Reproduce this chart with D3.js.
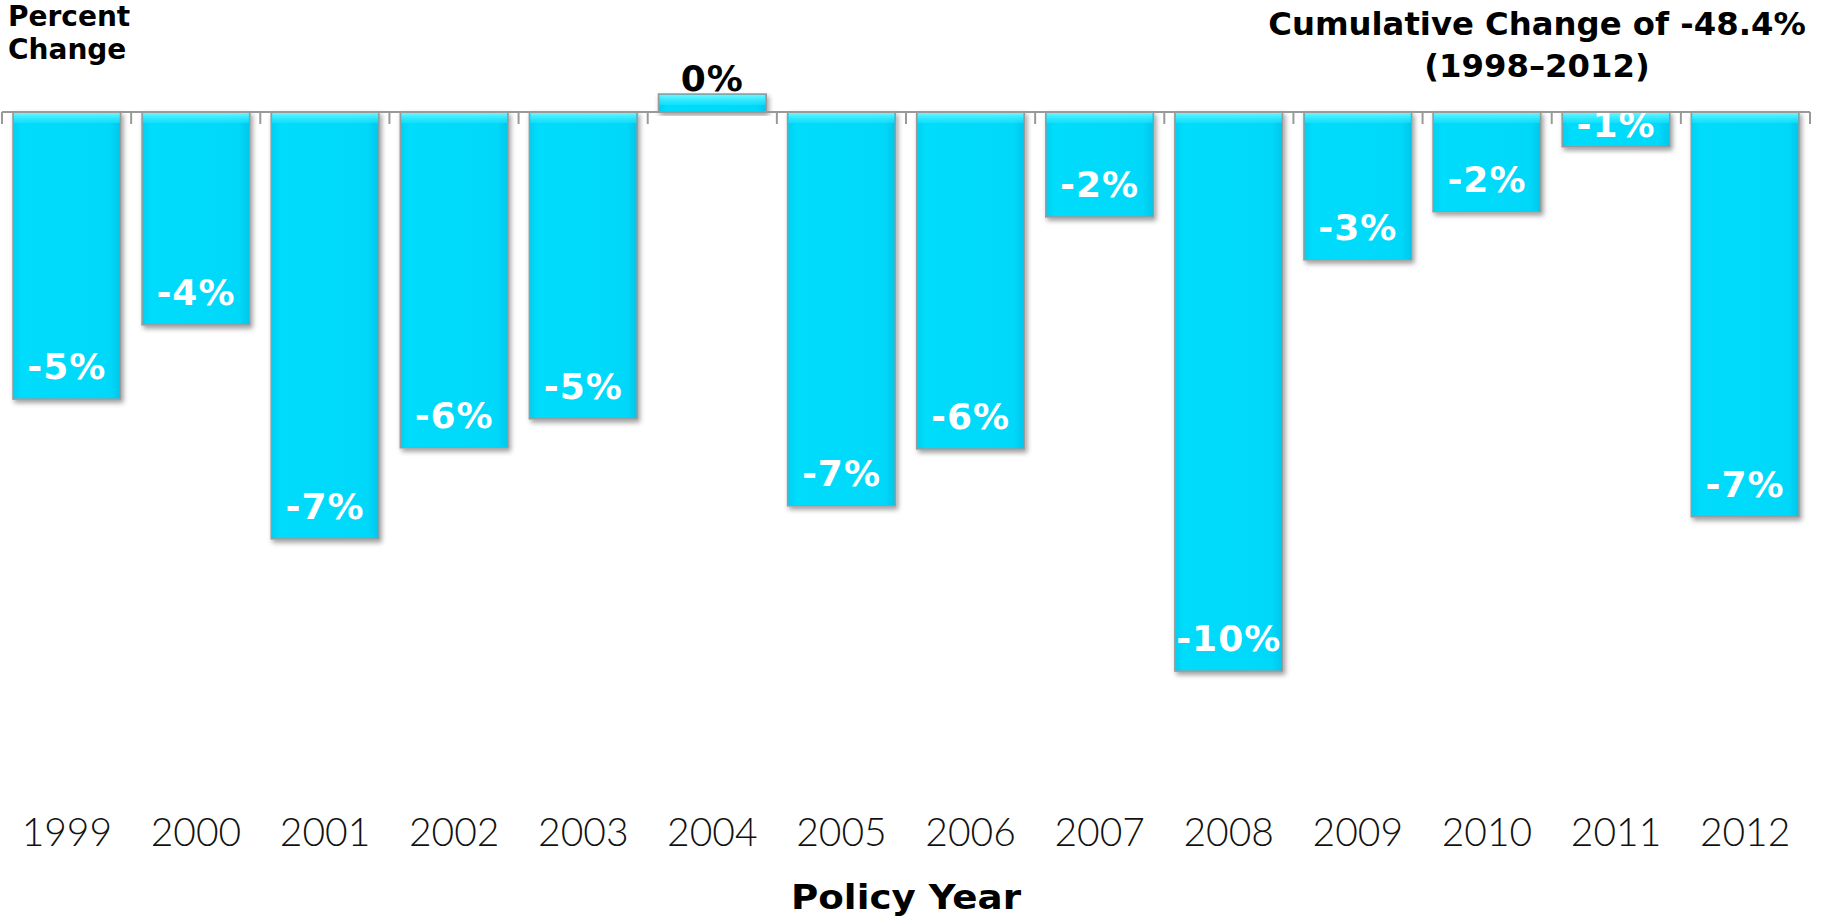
<!DOCTYPE html>
<html>
<head>
<meta charset="utf-8">
<script src="https://cdn.jsdelivr.net/npm/d3@7"></script>
<style>
  html, body { margin: 0; padding: 0; background: #fff; }
  svg { display: block; }
</style>
</head>
<body>
<script>
// ---- Data ----
const years = ["1999","2000","2001","2002","2003","2004","2005","2006","2007","2008","2009","2010","2011","2012"];
const changes = [-4.95, -3.67, -7.36, -5.79, -5.29, 0.31, -6.79, -5.81, -1.81, -9.64, -2.55, -1.72, -0.60, -6.98];
const yAxisTitle = ["Percent", "Change"];
const cumulativeTitle = ["Cumulative Change of -48.4%", "(1998\u20132012)"];
const xAxisTitle = "Policy Year";

const W = 1829, H = 923;
const svg = d3.select("body").append("svg").attr("width", W).attr("height", H);

const defs = svg.append("defs");
const shadow = defs.append("filter").attr("id", "shadow")
  .attr("x", "-20%").attr("y", "-20%").attr("width", "140%").attr("height", "140%");
shadow.append("feDropShadow").attr("dx", 2).attr("dy", 3).attr("stdDeviation", 2.5)
  .attr("flood-color", "#000").attr("flood-opacity", 0.38);

const grad = defs.append("linearGradient").attr("id", "barGrad")
  .attr("x1", "0").attr("x2", "1").attr("y1", "0").attr("y2", "0");
grad.append("stop").attr("offset", "0").attr("stop-color", "#00cff2");
grad.append("stop").attr("offset", "0.08").attr("stop-color", "#06dcfb");
grad.append("stop").attr("offset", "0.9").attr("stop-color", "#02d8fa");
grad.append("stop").attr("offset", "1").attr("stop-color", "#00c6ea");

const topGrad = defs.append("linearGradient").attr("id", "topGrad")
  .attr("x1", "0").attr("x2", "0").attr("y1", "0").attr("y2", "1");
topGrad.append("stop").attr("offset", "0").attr("stop-color", "#6af7ff");
topGrad.append("stop").attr("offset", "1").attr("stop-color", "#1fe6ff").attr("stop-opacity", 0.5);

// ---- Scales ----
const x = d3.scaleBand().domain(years).range([2, 1810]).paddingInner(0.165).paddingOuter(0.085);
const y = d3.scaleLinear().domain([-12, 1]).range([112 + 12 * 58, 112 - 58]);

const fmt = v => Math.round(v) + "%";

// ---- Bars ----
const data = years.map((yr, i) => ({ yr, v: changes[i] }));
const g = svg.append("g");

const bars = g.selectAll("g.bar").data(data).join("g").attr("class", "bar");
bars.append("rect")
  .attr("x", d => x(d.yr))
  .attr("y", d => Math.min(y(d.v), y(0)))
  .attr("width", x.bandwidth())
  .attr("height", d => Math.abs(y(d.v) - y(0)))
  .attr("fill", "url(#barGrad)")
  .attr("stroke", "#9a9a9a")
  .attr("stroke-width", 1.5)
  .attr("filter", "url(#shadow)");
bars.append("rect")
  .attr("x", d => x(d.yr) + 1)
  .attr("y", d => Math.min(y(d.v), y(0)) + 1)
  .attr("width", x.bandwidth() - 2)
  .attr("height", d => Math.min(10, Math.abs(y(d.v) - y(0)) - 2))
  .attr("fill", "url(#topGrad)");

// ---- Axis (line at zero with ticks between categories) ----
const axisG = svg.append("g");
axisG.append("line")
  .attr("x1", x.range()[0]).attr("x2", x.range()[1])
  .attr("y1", y(0)).attr("y2", y(0))
  .attr("stroke", "#999").attr("stroke-width", 2);
const boundaries = d3.range(years.length + 1).map(i => x.range()[0] + i * (x.range()[1] - x.range()[0]) / years.length);
axisG.selectAll("line.tick").data(boundaries).join("line").attr("class", "tick")
  .attr("x1", d => d).attr("x2", d => d)
  .attr("y1", y(0)).attr("y2", y(0) + 12)
  .attr("stroke", "#999").attr("stroke-width", 2);

// ---- Data labels ----
g.selectAll("text.lbl").data(data).join("text").attr("class", "lbl")
  .attr("x", d => x(d.yr) + x.bandwidth() / 2)
  .attr("y", d => d.v >= 0 ? y(d.v) - 3 : Math.max(y(d.v) - 20, y(0) + 25))
  .attr("text-anchor", "middle")
  .attr("font-family", "DejaVu Sans, Verdana, sans-serif")
  .attr("font-weight", "bold")
  .attr("font-size", 36)
  .attr("letter-spacing", 1)
  .attr("fill", d => d.v >= 0 ? "#000" : "#fff")
  .text(d => fmt(d.v));

// ---- Category labels ----
svg.append("g").selectAll("text").data(years).join("text")
  .attr("x", d => x(d) + x.bandwidth() / 2)
  .attr("y", 846)
  .attr("text-anchor", "middle")
  .attr("font-family", "Lato, sans-serif")
  .attr("font-weight", 300)
  .attr("font-size", 39)
  .attr("fill", "#111")
  .text(d => d);

// ---- Titles ----
const bold = "DejaVu Sans, Verdana, sans-serif";
svg.append("text")
  .attr("font-family", bold).attr("font-weight", "bold").attr("font-size", 28)
  .selectAll("tspan").data(yAxisTitle).join("tspan")
  .attr("x", 8).attr("y", (d, i) => 26 + i * 33).text(d => d);

svg.append("text")
  .attr("font-family", bold).attr("font-weight", "bold").attr("font-size", 32.3)
  .attr("text-anchor", "middle")
  .selectAll("tspan").data(cumulativeTitle).join("tspan")
  .attr("x", 1537).attr("y", (d, i) => 35 + i * 42).text(d => d);

svg.append("text")
  .attr("x", (x.range()[0] + x.range()[1]) / 2).attr("y", 909)
  .attr("text-anchor", "middle")
  .attr("font-family", bold).attr("font-weight", "bold").attr("font-size", 33)
  .attr("textLength", 230).attr("lengthAdjust", "spacingAndGlyphs")
  .text(xAxisTitle);
</script>
</body>
</html>
